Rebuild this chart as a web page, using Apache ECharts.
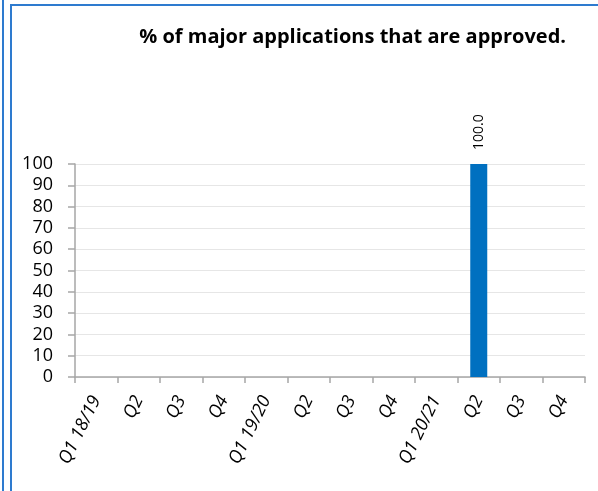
<!DOCTYPE html>
<html>
<head>
<meta charset="UTF-8">
<script src="https://cdn.jsdelivr.net/npm/echarts@6/dist/echarts.min.js"></script>
<style>
  html, body { margin: 0; padding: 0; background: #fff; }
  #outer { position: absolute; left: 2px; top: 0; width: 2px; height: 491px; background: #2e7bcf; }
  #frame { position: absolute; left: 10px; top: 4px; width: 600px; height: 500px;
           border-left: 2px solid #2e7bcf; border-top: 2px solid #2e7bcf; }
  #main { position: absolute; left: 0; top: 0; width: 598px; height: 491px; }
</style>
</head>
<body>
<div id="outer"></div>
<div id="frame"></div>
<div id="main"></div>
<script>
    var categories = ['Q1 18/19', 'Q2', 'Q3', 'Q4', 'Q1 19/20', 'Q2', 'Q3', 'Q4', 'Q1 20/21', 'Q2', 'Q3', 'Q4'];
    var approved = [null, null, null, null, null, null, null, null, null, 100.0, null, null];
    var yTicks = [0, 10, 20, 30, 40, 50, 60, 70, 80, 90, 100];

    var mychart = echarts.init(document.getElementById('main'));
    var option = {
        animation: false,
        title: {
            text: '% of major applications that are approved.',
            right: 27,
            top: 22,
            textStyle: {
                fontFamily: 'Open Sans',
                fontWeight: 'bold',
                fontSize: 20,
                color: '#000'
            }
        },
        grid: {
            left: 75,
            right: 13,
            top: 164,
            bottom: 114
        },
        xAxis: {
            type: 'category',
            data: categories,
            axisLine: { lineStyle: { color: '#a6a6a6', width: 1.5 } },
            axisTick: { show: true, alignWithLabel: false, length: 6, lineStyle: { color: '#a6a6a6', width: 1.5 } },
            axisLabel: {
                interval: 0,
                rotate: 64,
                margin: 20,
                fontFamily: 'Open Sans',
                fontStyle: 'italic',
                fontSize: 18,
                color: '#000'
            }
        },
        yAxis: {
            type: 'value',
            min: yTicks[0],
            max: yTicks[yTicks.length - 1],
            interval: 10,
            axisLine: { show: true, lineStyle: { color: '#a6a6a6', width: 1.5 } },
            axisTick: { show: true, inside: false, length: 7, lineStyle: { color: '#a6a6a6', width: 1.5 } },
            splitLine: { lineStyle: { color: '#e6e6e6' } },
            axisLabel: {
                margin: 22,
                fontFamily: 'Open Sans',
                fontSize: 18,
                color: '#000'
            }
        },
        series: [
            {
                type: 'bar',
                data: approved,
                barWidth: '40%',
                itemStyle: { color: '#0070c0' },
                label: {
                    show: true,
                    position: 'top',
                    rotate: 90,
                    align: 'left',
                    verticalAlign: 'middle',
                    distance: 14,
                    fontFamily: 'Open Sans',
                    fontSize: 14,
                    color: '#000',
                    formatter: function (p) { return p.value.toFixed(1); }
                }
            }
        ]
    };
    mychart.setOption(option);
</script>
</body>
</html>
